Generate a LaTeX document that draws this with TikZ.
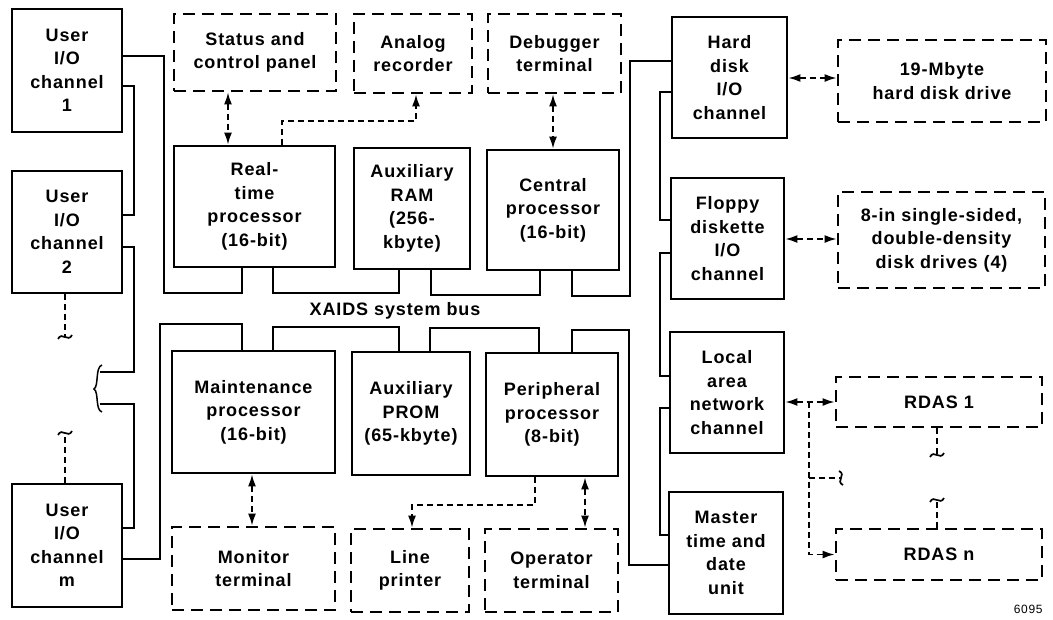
\documentclass[tikz,border=0pt]{standalone}
\usepackage{fontspec}
\setmainfont{Liberation Sans}[LetterSpace=5]
\usepackage{tikz}
\usetikzlibrary{arrows.meta,positioning}

\begin{document}
\begin{tikzpicture}[x=1pt,y=-1pt,
    unit/.style={draw,line width=2.8pt,align=center,inner sep=0pt,
      font=\fontsize{18}{23.5}\selectfont\bfseries},
    ext/.style={unit,dash pattern=on 12pt off 7pt},
    bus/.style={line width=1.5pt},
    link/.style={line width=1.7pt,dash pattern=on 6pt off 4pt},
    both/.style={link,{Latex[length=12pt,width=8pt]}-{Latex[length=12pt,width=8pt]}},
    oneway/.style={link,-{Latex[length=12pt,width=8pt]}},
    brk/.pic={\draw[line width=1.7pt,solid] (-7,2) .. controls (-3,-6) and (3,6) .. (7,-2);}]
    \useasboundingbox (0,0) rectangle (1053,619);

    % user channels
    \node[unit,minimum width=110,minimum height=123] (uio1) at (67,70.5) {User\\I/O\\channel\\1};
    \node[unit,minimum width=110,minimum height=122] (uio2) at (67,232) {User\\I/O\\channel\\2};
    \node[unit,minimum width=110,minimum height=123] (uiom) at (67,545.5) {User\\I/O\\channel\\m};

    % top row
    \node[ext,minimum width=162,minimum height=77] (status) at (255,52.5) {Status and\\control panel};
    \node[ext,minimum width=118,minimum height=79] (analog) at (413,53.5) {Analog\\recorder};
    \node[ext,minimum width=133,minimum height=79] (debug) at (554.5,53.5) {Debugger\\terminal};
    \node[unit,minimum width=161,minimum height=121] (rt) at (254.5,206.5) {Real-\\time\\processor\\(16-bit)};
    \node[unit,minimum width=116,minimum height=121] (ram) at (412,208.5) {Auxiliary\\RAM\\(256-\\kbyte)};
    \node[unit,minimum width=132,minimum height=120] (cpu) at (553,210) {Central\\processor\\(16-bit)};

    % bottom row
    \node[unit,minimum width=163,minimum height=122] (maint) at (253.5,412) {Maintenance\\processor\\(16-bit)};
    \node[unit,minimum width=118,minimum height=123] (prom) at (411,413.5) {Auxiliary\\PROM\\(65-kbyte)};
    \node[unit,minimum width=132,minimum height=123] (periph) at (552,414.5) {Peripheral\\processor\\(8-bit)};
    \node[ext,minimum width=163,minimum height=83] (monitor) at (253.5,568.5) {Monitor\\terminal};
    \node[ext,minimum width=118,minimum height=83] (lp) at (410,570.5) {Line\\printer};
    \node[ext,minimum width=133,minimum height=83] (opterm) at (551.5,570.5) {Operator\\terminal};

    % right column
    \node[unit,minimum width=115,minimum height=121] (hdc) at (729.5,77.5) {Hard\\disk\\I/O\\channel};
    \node[unit,minimum width=113,minimum height=121] (fdc) at (727.5,238.5) {Floppy\\diskette\\I/O\\channel};
    \node[unit,minimum width=114,minimum height=121] (lan) at (727,392.5) {Local\\area\\network\\channel};
    \node[unit,minimum width=114,minimum height=122] (mtu) at (726,553) {Master\\time and\\date\\unit};
    \node[ext,minimum width=208,minimum height=82] (hdd) at (942,81) {19-Mbyte\\hard disk drive};
    \node[ext,minimum width=207,minimum height=96] (fdd) at (941.5,240) {8-in single-sided,\\double-density\\disk drives (4)};
    \node[ext,minimum width=206,minimum height=50] (rdas1) at (939,402) {RDAS 1};
    \node[ext,minimum width=206,minimum height=51] (rdasn) at (939,554.5) {RDAS n};

    \node[font=\fontsize{18}{20}\selectfont\bfseries] (busname) at (395,311) {XAIDS system bus};
    \node[font=\fontsize{12}{14}\selectfont,anchor=east] (fignum) at (1046,609) {6095};

    % system bus
    \draw[bus] (uio1.east |- 0,56) -- (164,56) |- (242,293) -- (rt.south -| 242,0);
    \draw[bus] (rt.south -| 273,0) |- (399,293) -- (ram.south -| 399,0);
    \draw[bus] (ram.south -| 431,0) |- (540,295) -- (cpu.south -| 540,0);
    \draw[bus] (cpu.south -| 572,0) |- (630,296) |- (hdc.west |- 0,61);
    \draw[bus] (uiom.east |- 0,559) -- (160,559) |- (242,324) -- (maint.north -| 242,0);
    \draw[bus] (maint.north -| 273,0) |- (399,327) -- (prom.north -| 399,0);
    \draw[bus] (prom.north -| 430,0) |- (539,328) -- (periph.north -| 539,0);
    \draw[bus] (periph.north -| 572,0) |- (629,330) |- (mtu.west |- 0,565);

    % daisy chains
    \draw[bus] (uio1.east |- 0,86) -- (134,86) |- (uio2.east |- 0,215);
    \coordinate (cut1) at (100,372);
    \coordinate (cut2) at (100,404);
    \draw[bus] (uio2.east |- 0,247) -- (134,247) |- (cut1);
    \draw[bus] (cut2) -- (134,404) |- (uiom.east |- 0,528);
    \draw[bus] (102,365) .. controls (95,367) and (99,386) .. (94,389) .. controls (99,392) and (95,410) .. (102,412);
    \draw[bus] (hdc.west |- 0,92) -- (660,92) |- (fdc.west |- 0,220);
    \draw[bus] (fdc.west |- 0,253) -- (660,253) |- (lan.west |- 0,376);
    \draw[bus] (lan.west |- 0,408) -- (660,408) |- (mtu.west |- 0,535);

    % peripherals
    \draw[both] (status.south -| 228,0) -- (rt.north -| 228,0);
    \draw[oneway] (rt.north -| 282,0) |- (416,121) -- (analog.south -| 416,0);
    \draw[both] (debug.south -| 553,0) -- (cpu.north -| 553,0);
    \draw[both] (maint.south -| 252,0) -- (monitor.north -| 252,0);
    \draw[oneway] (periph.south -| 535,0) |- (412,505) -- (lp.north -| 412,0);
    \draw[both] (periph.south -| 585,0) -- (opterm.north -| 585,0);
    \draw[both] (hdc.east |- 0,78) -- (hdd.west |- 0,78);
    \draw[both] (fdc.east |- 0,239) -- (fdd.west |- 0,239);
    \draw[both] (lan.east |- rdas1.west) -- (rdas1.west);
    \coordinate (tap) at (809,402);
    \coordinate (spur) at (841,478);
    \draw[oneway] (tap) |- (rdasn.west);
    \draw[link] (tap |- spur) -- (spur);
    \pic[rotate=90] at (spur) {brk};

    % broken continuations
    \coordinate (end1) at (65,337);
    \coordinate (end2) at (65,433);
    \coordinate (end3) at (937,455);
    \coordinate (end4) at (937,500);
    \draw[link] (uio2.south -| end1) -- (end1);
    \draw[link] (uiom.north -| end2) -- (end2);
    \draw[link] (rdas1.south -| end3) -- (end3);
    \draw[link] (rdasn.north -| end4) -- (end4);
    \pic at (end1) {brk};
    \pic at (end2) {brk};
    \pic at (end3) {brk};
    \pic at (end4) {brk};
\end{tikzpicture}
\end{document}
